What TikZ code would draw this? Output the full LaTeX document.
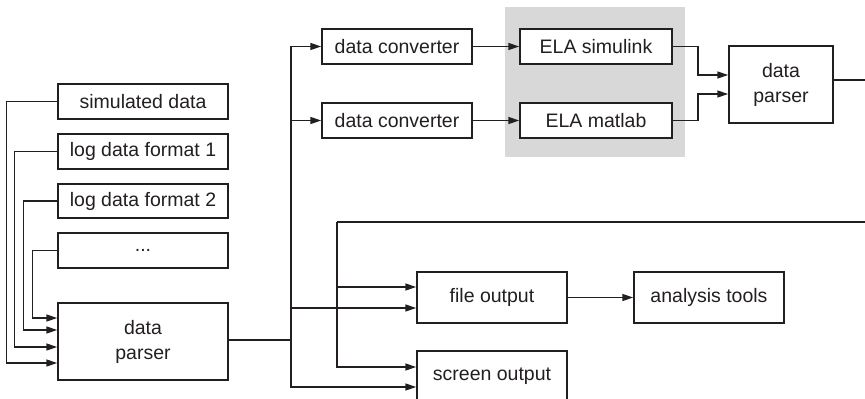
\documentclass[tikz,border=0pt]{standalone}
\usepackage{fontspec}
\setmainfont{Liberation Sans}
\usetikzlibrary{arrows.meta,calc}
\definecolor{ink}{RGB}{35,31,32}
\definecolor{greybg}{RGB}{216,216,216}
\begin{document}
\begin{tikzpicture}[x=1pt,y=-1pt,
  box/.style={draw=ink,line width=1.5pt,fill=white,inner sep=0pt,align=center,text=ink,
    font=\fontsize{19.5}{25}\selectfont},
  conn/.style={draw=ink,line width=1.5pt},
  arr/.style={conn,-{Triangle[length=11pt,width=7pt]}}]
\useasboundingbox (0,0) rectangle (865,399);
\fill[greybg] (505,7) rectangle (685,157);
% left column
\node[box,minimum width=170pt,minimum height=35pt] (sim) at (143,101.5) {simulated data};
\node[box,minimum width=170pt,minimum height=35pt] (log1) at (143,151.5) {log data format 1};
\node[box,minimum width=170pt,minimum height=34pt] (log2) at (143,201) {log data format 2};
\node[box,minimum width=170pt,minimum height=35pt] (dots) at (143,250.5) {...};
\node[box,minimum width=170pt,minimum height=77pt] (parserA) at (143,341.5) {data\\parser};
% upper branch
\node[box,minimum width=150pt,minimum height=35pt] (conv1) at (397,46.5) {data converter};
\node[box,minimum width=150pt,minimum height=35pt] (conv2) at (397,120.5) {data converter};
\node[box,minimum width=152pt,minimum height=35pt] (elasim) at (596,46.5) {ELA simulink};
\node[box,minimum width=152pt,minimum height=35pt] (elamat) at (596,120.5) {ELA matlab};
\node[box,minimum width=104pt,minimum height=77pt] (parserB) at (781,84.5) {data\\parser};
% lower branch
\node[box,minimum width=150pt,minimum height=51pt] (fileout) at (492,297.5) {file output};
\node[box,minimum width=150pt,minimum height=54pt] (screen) at (492,378) {};
\node[text=ink,font=\fontsize{19.5}{25}\selectfont,inner sep=0pt] (screentxt) at (492,376) {screen output};
\node[box,minimum width=150pt,minimum height=51pt] (analysis) at (709,297.5) {analysis tools};
% coordinates
\coordinate (b1) at (291,340);
\coordinate (b2) at (337,222);
\coordinate (outB) at (866,80);
\coordinate (inB) at (866,222);
% left inputs
\draw[arr] (sim.west) -- ++(-51,0) |- ($(parserA.west)+(0,21.5)$);
\draw[arr] (log1.west) -- ++(-43,0) |- ($(parserA.west)+(0,5.5)$);
\draw[arr] (log2.west) -- ++(-34,0) |- ($(parserA.west)+(0,-11.5)$);
\draw[arr] (dots.west) -- ++(-25,0) |- ($(parserA.west)+(0,-23.5)$);
% main bus
\draw[conn] (parserA.east |- b1) -- (b1);
\draw[arr] (b1) |- (conv1.west);
\draw[arr] (b1) |- (conv2.west);
\draw[arr] (b1) |- ($(fileout.west)+(0,10.5)$);
\draw[arr] (b1) |- ($(screen.west)+(0,9)$);
\draw[arr] (conv1) -- (elasim);
\draw[arr] (conv2) -- (elamat);
\draw[arr] (elasim.east) -- ++(25,0) |- ($(parserB.west)+(0,-9.5)$);
\draw[arr] (elamat.east) -- ++(25,0) |- ($(parserB.west)+(0,9.5)$);
\draw[conn] (parserB.east |- outB) -- (outB);
% second bus
\draw[conn] (inB) -- (b2);
\draw[arr] (b2) |- ($(fileout.west)+(0,-10.5)$);
\draw[arr] (b2) |- ($(screen.west)+(0,-11)$);
\draw[arr] (fileout) -- (analysis);
\end{tikzpicture}
\end{document}
